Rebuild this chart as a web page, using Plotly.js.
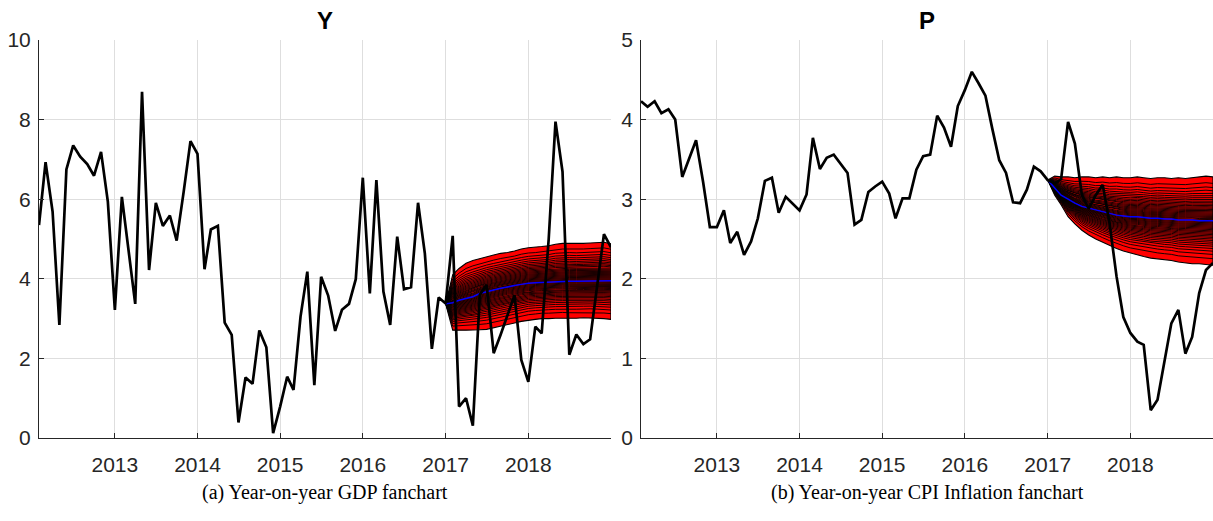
<!DOCTYPE html>
<html>
<head>
<meta charset="utf-8">
<script src="https://cdn.plot.ly/plotly-3.0.1.min.js"></script>
<style>
    html, body { margin: 0; padding: 0; background: #fff; }
    #fancharts { width: 1213px; height: 521px; }
</style>
</head>
<body>
<div id="fancharts"></div>
<script>
// Monthly observations, Feb 2012 .. Jan 2019
const FIRST_YEAR = 2012;
const FIRST_MONTH = 2;

const gdpHistory = [
    5.35, 6.93, 5.69, 2.84, 6.75, 7.35, 7.07, 6.88, 6.59, 7.19, 5.94,
    3.22, 6.06, 4.72, 3.37, 8.70, 4.22, 5.91, 5.33, 5.59, 4.96, 6.19, 7.46,
    7.14, 4.24, 5.24, 5.33, 2.90, 2.59, 0.39, 1.52, 1.36, 2.70, 2.28, 0.12,
    0.79, 1.54, 1.21, 3.05, 4.18, 1.33, 4.05, 3.58, 2.69, 3.22, 3.37, 3.99,
    6.54, 3.63, 6.48, 3.68, 2.84, 5.06, 3.74, 3.79, 5.91, 4.64, 2.24, 3.53,
    3.38, 5.08, 0.79, 1.00, 0.31, 3.60, 3.85, 2.13, 2.60, 3.10, 3.59, 1.96,
    1.41, 2.80, 2.63, 5.00, 7.95, 6.69, 2.09, 2.60, 2.36, 2.48, 3.80, 5.12,
    4.79
];

const cpiHistory = [
    4.23, 4.16, 4.23, 4.08, 4.13, 4.00, 3.28, 3.51, 3.74, 3.22, 2.65,
    2.65, 2.86, 2.45, 2.59, 2.30, 2.47, 2.76, 3.23, 3.27, 2.83, 3.03, 2.94,
    2.86, 3.06, 3.77, 3.38, 3.52, 3.56, 3.45, 3.33, 2.68, 2.74, 3.09, 3.16,
    3.22, 3.07, 2.76, 3.01, 3.01, 3.37, 3.54, 3.56, 4.05, 3.90, 3.66, 4.17,
    4.37, 4.60, 4.46, 4.30, 3.89, 3.49, 3.33, 2.96, 2.95, 3.12, 3.41, 3.35,
    3.24, 3.20, 3.25, 3.97, 3.70, 3.05, 2.88, 3.05, 3.18, 2.70, 2.03, 1.52,
    1.32, 1.21, 1.17, 0.35, 0.48, 0.98, 1.44, 1.61, 1.06, 1.27, 1.82, 2.11,
    2.20
];

// Forecast fans, Jan 2017 .. Jan 2019: outer bounds and median
const FAN_START = 59;

const gdpFanUpper = [
    3.37, 4.10, 4.26, 4.39, 4.46, 4.51, 4.56, 4.60, 4.64, 4.66, 4.70, 4.75,
    4.78, 4.79, 4.81, 4.83, 4.87, 4.89, 4.89, 4.88, 4.89, 4.90, 4.91, 4.92, 4.88
];
const gdpFanMedian = [
    3.37, 3.40, 3.46, 3.51, 3.55, 3.63, 3.68, 3.72, 3.76, 3.80, 3.83, 3.86,
    3.89, 3.90, 3.91, 3.92, 3.93, 3.93, 3.94, 3.94, 3.94, 3.95, 3.95, 3.95, 3.95
];
const gdpFanLower = [
    3.37, 2.71, 2.71, 2.71, 2.71, 2.72, 2.73, 2.77, 2.81, 2.85, 2.89, 2.93,
    2.96, 2.98, 3.00, 3.00, 3.01, 3.02, 3.01, 3.01, 3.02, 3.02, 3.01, 3.00, 2.98
];

const cpiFanUpper = [
    3.24, 3.29, 3.28, 3.28, 3.27, 3.28, 3.28, 3.27, 3.28, 3.27, 3.28, 3.27,
    3.27, 3.28, 3.27, 3.26, 3.27, 3.27, 3.26, 3.27, 3.26, 3.27, 3.28, 3.29, 3.28
];
const cpiFanMedian = [
    3.24, 3.14, 3.05, 3.00, 2.95, 2.91, 2.89, 2.86, 2.84, 2.82, 2.80, 2.79,
    2.78, 2.78, 2.77, 2.76, 2.76, 2.75, 2.75, 2.74, 2.74, 2.74, 2.73, 2.73, 2.73
];
const cpiFanLower = [
    3.24, 3.05, 2.93, 2.78, 2.69, 2.61, 2.55, 2.50, 2.46, 2.42, 2.38, 2.35,
    2.32, 2.30, 2.28, 2.26, 2.25, 2.24, 2.23, 2.21, 2.20, 2.19, 2.19, 2.18, 2.17
];

// Inner quantile bands, as share of the outer band width
const bandFrac = [
    0.852, 0.757, 0.684, 0.624, 0.572, 0.526, 0.484, 0.445, 0.410, 0.376, 0.344,
    0.313, 0.284, 0.255, 0.228, 0.201, 0.174, 0.148, 0.123, 0.098, 0.074, 0.049, 0.024
];

const yearTicks = ['2013-01-01', '2014-01-01', '2015-01-01', '2016-01-01', '2017-01-01', '2018-01-01'];
const yearLabels = ['2013', '2014', '2015', '2016', '2017', '2018'];

const COLOR_AXIS = '#262626';
const COLOR_GRID = '#dedede';
const COLOR_FAN = '#ff0000';
const COLOR_MEDIAN = '#0000ff';


function monthDates(year, month, count) {
    let dates = [];
    for (let i = 0; i < count; i++) {
        let m = month - 1 + i;
        let y = year + Math.floor(m / 12);
        let mm = (m % 12) + 1;
        dates.push(y + '-' + (mm < 10 ? '0' + mm : mm) + '-01');
    }
    return dates;
}


/**
 * Traces for one fanchart panel
 */
function createFanchart(history, upper, median, lower, xa, ya) {
    let xData = monthDates(FIRST_YEAR, FIRST_MONTH, history.length);
    let fanX = xData.slice(FAN_START, FAN_START + median.length);
    let traces = [];

    // Outer band, filled red
    traces.push({
        x: fanX.concat(fanX.slice().reverse()),
        y: upper.concat(lower.slice().reverse()),
        xaxis: xa,
        yaxis: ya,
        mode: 'lines',
        fill: 'toself',
        fillcolor: COLOR_FAN,
        line: { color: '#000', width: 1.1 },
        hoverinfo: 'skip'
    });

    // Inner quantile contours
    for (let f of bandFrac) {
        let up = [];
        let lo = [];
        for (let i in median) {
            up.push(median[i] + f * (upper[i] - median[i]));
            lo.push(median[i] - f * (median[i] - lower[i]));
        }
        for (let yLine of [up, lo]) {
            traces.push({
                x: fanX,
                y: yLine,
                xaxis: xa,
                yaxis: ya,
                mode: 'lines',
                line: { color: '#000', width: 0.9 },
                hoverinfo: 'skip'
            });
        }
    }

    traces.push({
        x: fanX,
        y: median,
        xaxis: xa,
        yaxis: ya,
        mode: 'lines',
        line: { color: COLOR_MEDIAN, width: 1.5 }
    });

    traces.push({
        x: xData,
        y: history,
        xaxis: xa,
        yaxis: ya,
        mode: 'lines',
        line: { color: '#000', width: 2.7 }
    });

    return traces;
}


function axisStyle(extra) {
    let base = {
        showgrid: true,
        gridcolor: COLOR_GRID,
        gridwidth: 1,
        zeroline: false,
        showline: true,
        linecolor: COLOR_AXIS,
        linewidth: 1,
        ticks: 'inside',
        ticklen: 5,
        tickcolor: COLOR_AXIS,
        tickfont: { family: 'Liberation Sans, Arial, sans-serif', size: 21, color: COLOR_AXIS },
        fixedrange: true
    };
    return Object.assign(base, extra);
}


let data = createFanchart(gdpHistory, gdpFanUpper, gdpFanMedian, gdpFanLower, 'x', 'y')
    .concat(createFanchart(cpiHistory, cpiFanUpper, cpiFanMedian, cpiFanLower, 'x2', 'y2'));

let dateRange = ['2012-02-01', '2019-01-01'];

let titleFont = { family: 'Liberation Sans, Arial, sans-serif', size: 24, color: '#000', weight: 'bold' };
let captionFont = { family: 'Liberation Serif, Times New Roman, serif', size: 20, color: '#000' };

let layout = {
    width: 1213,
    height: 521,
    showlegend: false,
    paper_bgcolor: '#fff',
    plot_bgcolor: '#fff',
    margin: { l: 39, r: 0, t: 40, b: 83 },
    xaxis: axisStyle({
        domain: [0, 0.4872], anchor: 'y', type: 'date', range: dateRange,
        tickvals: yearTicks, ticktext: yearLabels, ticklabelstandoff: 8
    }),
    yaxis: axisStyle({
        domain: [0, 1], anchor: 'x', range: [0, 10],
        tickvals: [0, 2, 4, 6, 8, 10], ticklabelstandoff: 3
    }),
    xaxis2: axisStyle({
        domain: [0.5128, 1], anchor: 'y2', type: 'date', range: dateRange,
        tickvals: yearTicks, ticktext: yearLabels, ticklabelstandoff: 8
    }),
    yaxis2: axisStyle({
        domain: [0, 1], anchor: 'x2', range: [0, 5],
        tickvals: [0, 1, 2, 3, 4, 5], ticklabelstandoff: 3
    }),
    annotations: [
        { text: 'Y', xref: 'paper', yref: 'paper', x: 0.2436, xanchor: 'center', y: 1.05, yanchor: 'middle', showarrow: false, font: titleFont },
        { text: 'P', xref: 'paper', yref: 'paper', x: 0.7564, xanchor: 'center', y: 1.05, yanchor: 'middle', showarrow: false, font: titleFont },
        { text: '(a) Year-on-year GDP fanchart', xref: 'paper', yref: 'paper', x: 0.2436, xanchor: 'center', y: -0.136, yanchor: 'middle', showarrow: false, font: captionFont },
        { text: '(b) Year-on-year CPI Inflation fanchart', xref: 'paper', yref: 'paper', x: 0.7564, xanchor: 'center', y: -0.136, yanchor: 'middle', showarrow: false, font: captionFont }
    ]
};

let config = {
    displayModeBar: false,
    staticPlot: true
};

let htmlElement = document.getElementById('fancharts');
Plotly.newPlot(htmlElement, data, layout, config);
</script>
</body>
</html>
